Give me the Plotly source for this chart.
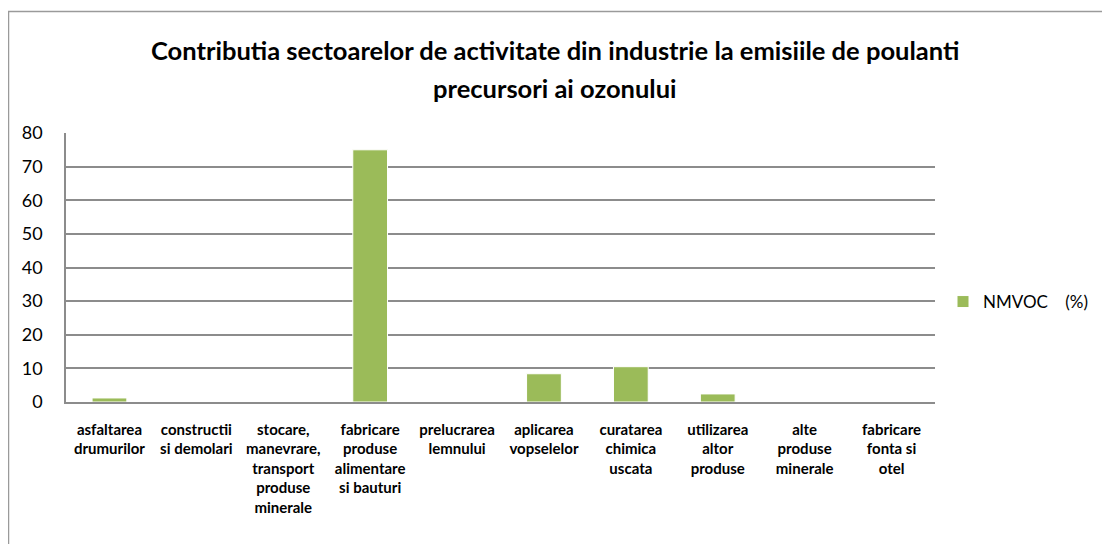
import plotly.graph_objects as go

categories = [
    "asfaltarea<br>drumurilor",
    "constructii<br>si demolari",
    "stocare,<br>manevrare,<br>transport<br>produse<br>minerale",
    "fabricare<br>produse<br>alimentare<br>si bauturi",
    "prelucrarea<br>lemnului",
    "aplicarea<br>vopselelor",
    "curatarea<br>chimica<br>uscata",
    "utilizarea<br>altor<br>produse",
    "alte<br>produse<br>minerale",
    "fabricare<br>fonta si<br>otel",
]
nmvoc = [1.2, 0, 0, 75, 0, 8.4, 10.5, 2.4, 0, 0]
series_name = "NMVOC \u00a0\u00a0\u00a0(%)"
title_lines = [
    "Contributia sectoarelor de activitate din industrie la emisiile de poulanti",
    "precursori ai ozonului",
]
y_ticks = [0, 10, 20, 30, 40, 50, 60, 70, 80]

FONT = "Lato"
L, T, PW, PH = 58, 125, 869, 269  # plot area in figure px (page adds 8px body margin)
B = 544 - T - PH
R = 1110 - L - PW


def px_x(x):
    return (x - L) / PW


def px_y(y):
    return (T + PH - y) / PH


fig = go.Figure()
fig.add_trace(go.Bar(
    x=categories, y=nmvoc, name=series_name,
    marker=dict(color="#9BBB59", line=dict(color="white", width=1)),
    width=0.4,
))

fig.update_layout(
    width=1110, height=544,
    margin=dict(l=L, r=R, t=T, b=B, autoexpand=False),
    paper_bgcolor="white", plot_bgcolor="white",
    showlegend=True,
    legend=dict(x=px_x(935), y=px_y(294), xanchor="left", yanchor="middle",
                font=dict(family=FONT, size=17, color="black"),
                itemwidth=30, bgcolor="rgba(0,0,0,0)"),
    bargap=0.6,
    font=dict(family=FONT, color="black"),
)
fig.update_xaxes(
    type="category", showgrid=False, showline=True, linecolor="#8c8c8c", linewidth=1.5,
    tickfont=dict(family=FONT, size=15, color="black", weight="bold"),
    ticks="", tickangle=0, ticklabelstandoff=13, automargin=False,
)
fig.update_yaxes(
    range=[0, 80], tickvals=y_ticks, showgrid=True, gridcolor="#8c8c8c", gridwidth=1.5,
    showline=True, linecolor="#8c8c8c", linewidth=1.5, zeroline=False,
    tickfont=dict(family=FONT, size=18, color="black"), ticks="",
    ticklabelstandoff=18, automargin=False,
)

# title lines
for txt, yp in zip(title_lines, [42, 80]):
    fig.add_annotation(text="<b>" + txt + "</b>", xref="paper", yref="paper",
                       x=px_x(547), y=px_y(yp), xanchor="center", yanchor="middle",
                       showarrow=False, font=dict(family=FONT, size=25.5, color="black"))

# chart area border
fig.add_shape(type="rect", xref="paper", yref="paper",
              x0=px_x(0.5), x1=2.0, y0=-1.0, y1=px_y(3.5),
              line=dict(color="#9a9a9a", width=1.5), fillcolor="rgba(0,0,0,0)", layer="below")

fig.write_html("out.html")
